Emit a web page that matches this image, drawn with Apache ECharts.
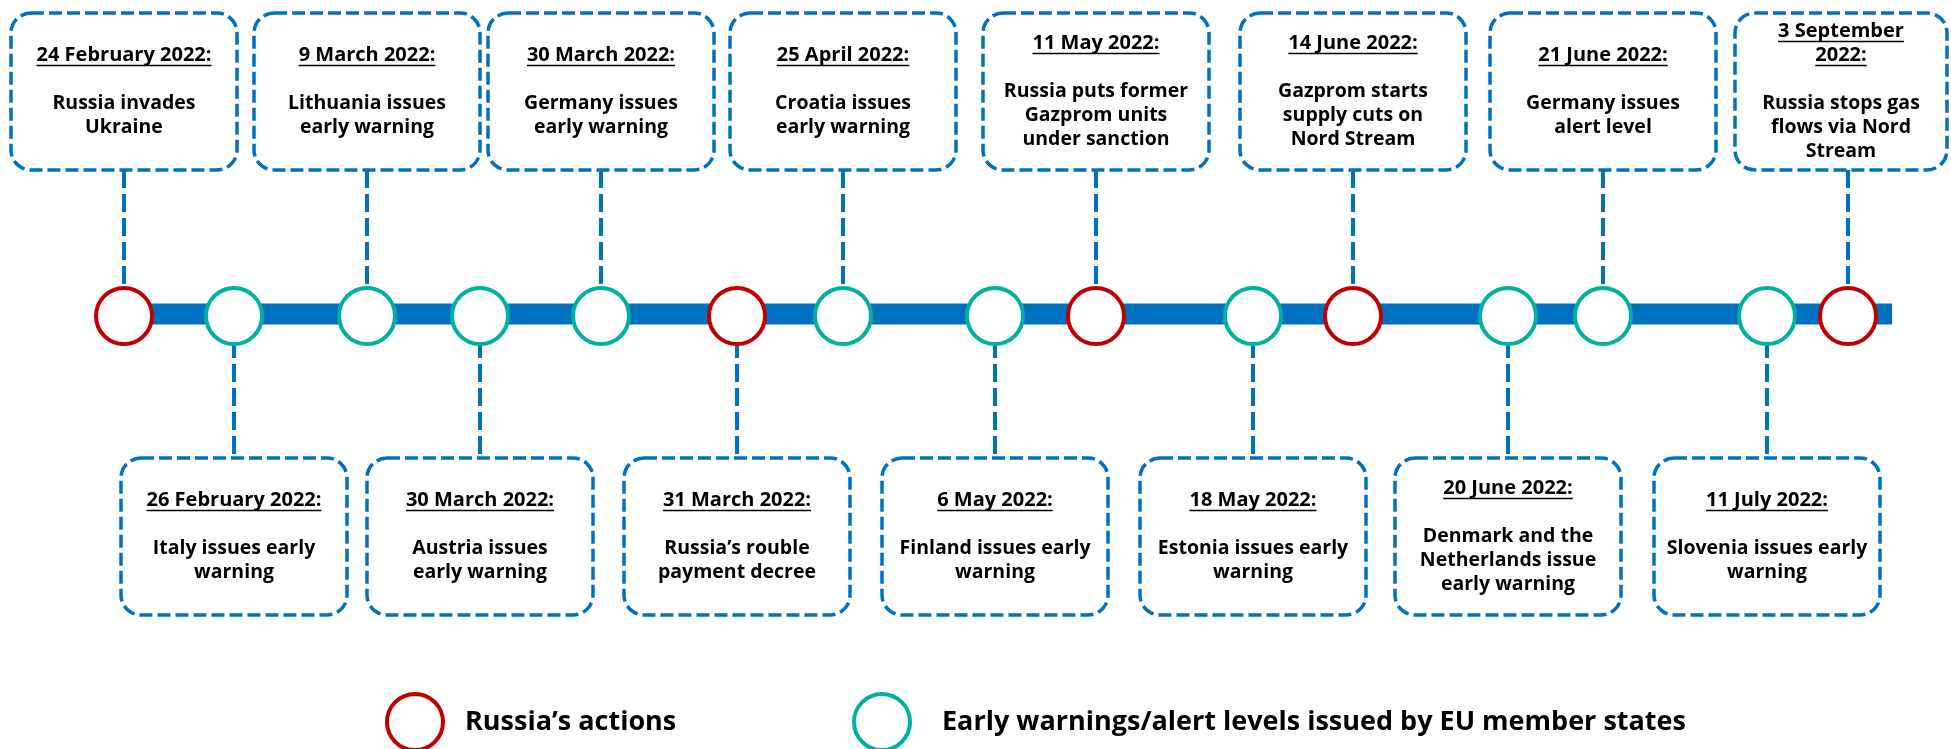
<!DOCTYPE html>
<html>
<head>
<meta charset="utf-8">
<title>Gas supply timeline 2022</title>
<script src="https://cdn.jsdelivr.net/npm/echarts@6/dist/echarts.min.js"></script>
<style>
  html, body { margin: 0; padding: 0; background: #fff; }
  #chart { width: 1951px; height: 749px; }
</style>
</head>
<body>
<div id="chart"></div>
<script>
// events, in the order they sit on the timeline
const eventDates = [
    '24 February 2022:', '26 February 2022:', '9 March 2022:', '30 March 2022:', '30 March 2022:',
    '31 March 2022:', '25 April 2022:', '6 May 2022:', '11 May 2022:', '18 May 2022:',
    '14 June 2022:', '20 June 2022:', '21 June 2022:', '11 July 2022:', '3 September\n2022:'
]
const eventTexts = [
    'Russia invades\nUkraine',
    'Italy issues early\nwarning',
    'Lithuania issues\nearly warning',
    'Austria issues\nearly warning',
    'Germany issues\nearly warning',
    'Russia’s rouble\npayment decree',
    'Croatia issues\nearly warning',
    'Finland issues early\nwarning',
    'Russia puts former\nGazprom units\nunder sanction',
    'Estonia issues early\nwarning',
    'Gazprom starts\nsupply cuts on\nNord Stream',
    'Denmark and the\nNetherlands issue\nearly warning',
    'Germany issues\nalert level',
    'Slovenia issues early\nwarning',
    'Russia stops gas\nflows via Nord\nStream'
]
const eventKinds = ['russia', 'eu', 'eu', 'eu', 'eu', 'russia', 'eu', 'eu', 'russia', 'eu', 'russia', 'eu', 'eu', 'eu', 'russia']
const eventSides = ['top', 'bottom', 'top', 'bottom', 'top', 'bottom', 'top', 'bottom', 'top', 'bottom', 'top', 'bottom', 'top', 'bottom', 'top']
// place of each event along the drawn timeline (not a time scale)
const eventPos = [124, 234, 367, 480, 601, 737, 843, 995, 1096, 1253, 1353, 1508, 1603, 1767, 1848]
const timelineEnd = 1892

const legendNames = ['Russia’s actions', 'Early warnings/alert levels issued by EU member states']

const W = 1951
const H = 749
const BLUE = '#0070C0'
const RED = '#C00000'
const TEAL = '#00B0A0'
const FONT = '"Open Sans", "Noto Sans", sans-serif'
const LINE_Y = 314
const CIRCLE_Y = 316
const BOX_W = 226
const BOX_H = 157
const ROW_TOP = {top: 13, bottom: 458}
const LINE_H = 24

const measureCtx = document.createElement('canvas').getContext('2d')
function textWidth(str, font) {
    measureCtx.font = font
    return measureCtx.measureText(str).width
}

function renderCallout(params, api) {
    const i = params.dataIndex
    const side = eventSides[i]
    const pt = api.coord([api.value(0), CIRCLE_Y])
    const cx = pt[0]
    const cy = pt[1]
    const top = api.coord([0, ROW_TOP[side]])[1]
    // boxes at the edge get trimmed, not moved
    const left = Math.max(4, cx - BOX_W / 2)
    const right = Math.min(W - 4, cx + BOX_W / 2)
    const boxCx = (left + right) / 2
    const boxCy = top + BOX_H / 2

    const dateLines = eventDates[i].split('\n')
    const bodyLines = eventTexts[i].split('\n')
    const total = dateLines.length + 1 + bodyLines.length
    const first = boxCy - total * LINE_H / 2 + LINE_H / 2

    const children = []
    // connector from box to the circle
    children.push({
        type: 'line',
        shape: {x1: cx, y1: side === 'top' ? top + BOX_H : cy, x2: cx, y2: side === 'top' ? cy : top},
        style: {stroke: BLUE, lineWidth: 4, lineDash: [18, 6], fill: null}
    })
    children.push({
        type: 'rect',
        shape: {x: left, y: top, width: right - left, height: BOX_H, r: 20},
        style: {fill: '#fff', stroke: BLUE, lineWidth: 3.5, lineDash: [13, 5]}
    })
    const dateFont = 'bold 20px ' + FONT
    dateLines.forEach((ln, k) => {
        const y = first + k * LINE_H
        const w = textWidth(ln, dateFont)
        children.push({
            type: 'text',
            style: {text: ln, x: boxCx, y: y, font: dateFont, fill: '#000', align: 'center', verticalAlign: 'middle'}
        })
        children.push({
            type: 'line',
            shape: {x1: boxCx - w / 2, y1: y + 10, x2: boxCx + w / 2, y2: y + 10},
            style: {stroke: '#000', lineWidth: 1.5}
        })
    })
    children.push({
        type: 'text',
        style: {
            text: eventTexts[i],
            x: boxCx,
            y: first + (dateLines.length + 1) * LINE_H - LINE_H / 2,
            font: 'bold 19.5px ' + FONT,
            lineHeight: LINE_H,
            fill: '#000',
            align: 'center',
            verticalAlign: 'top'
        }
    })
    return {type: 'group', children: children}
}

function circles(kind) {
    const out = []
    eventPos.forEach((p, i) => {
        if (eventKinds[i] === kind) out.push([p, CIRCLE_Y])
    })
    return out
}

const chart = echarts.init(document.getElementById('chart'))

const legendText = {fontFamily: FONT, fontWeight: 'bold', fontSize: 27, color: '#000'}

chart.setOption({
    animation: false,
    grid: {left: 0, right: 0, top: 0, bottom: 0},
    xAxis: {type: 'value', min: 0, max: W, show: false},
    yAxis: {type: 'value', min: 0, max: H, inverse: true, show: false},
    legend: [
        {
            left: 385, top: 692, padding: 0, itemWidth: 56, itemHeight: 56, selectedMode: false,
            data: [{name: legendNames[0], icon: 'circle', itemStyle: {color: '#fff', borderColor: RED, borderWidth: 4}}],
            textStyle: Object.assign({padding: [0, 0, 0, 17]}, legendText)
        },
        {
            left: 852, top: 692, padding: 0, itemWidth: 56, itemHeight: 56, selectedMode: false,
            data: [{name: legendNames[1], icon: 'circle', itemStyle: {color: '#fff', borderColor: TEAL, borderWidth: 4}}],
            textStyle: Object.assign({padding: [0, 0, 0, 27]}, legendText)
        }
    ],
    series: [
        {
            name: 'timeline',
            type: 'line',
            silent: true,
            symbol: 'none',
            z: 1,
            data: [[eventPos[0], LINE_Y], [timelineEnd, LINE_Y]],
            lineStyle: {color: BLUE, width: 21, cap: 'butt'}
        },
        {
            name: 'callouts',
            type: 'custom',
            silent: true,
            z: 2,
            data: eventPos.map((p, i) => [p, i]),
            renderItem: renderCallout
        },
        {
            name: legendNames[0],
            type: 'scatter',
            z: 3,
            symbolSize: 56,
            data: circles('russia'),
            itemStyle: {color: '#fff', borderColor: RED, borderWidth: 4, opacity: 1},
            emphasis: {disabled: true}
        },
        {
            name: legendNames[1],
            type: 'scatter',
            z: 3,
            symbolSize: 56,
            data: circles('eu'),
            itemStyle: {color: '#fff', borderColor: TEAL, borderWidth: 4, opacity: 1},
            emphasis: {disabled: true}
        }
    ]
})
</script>
</body>
</html>
